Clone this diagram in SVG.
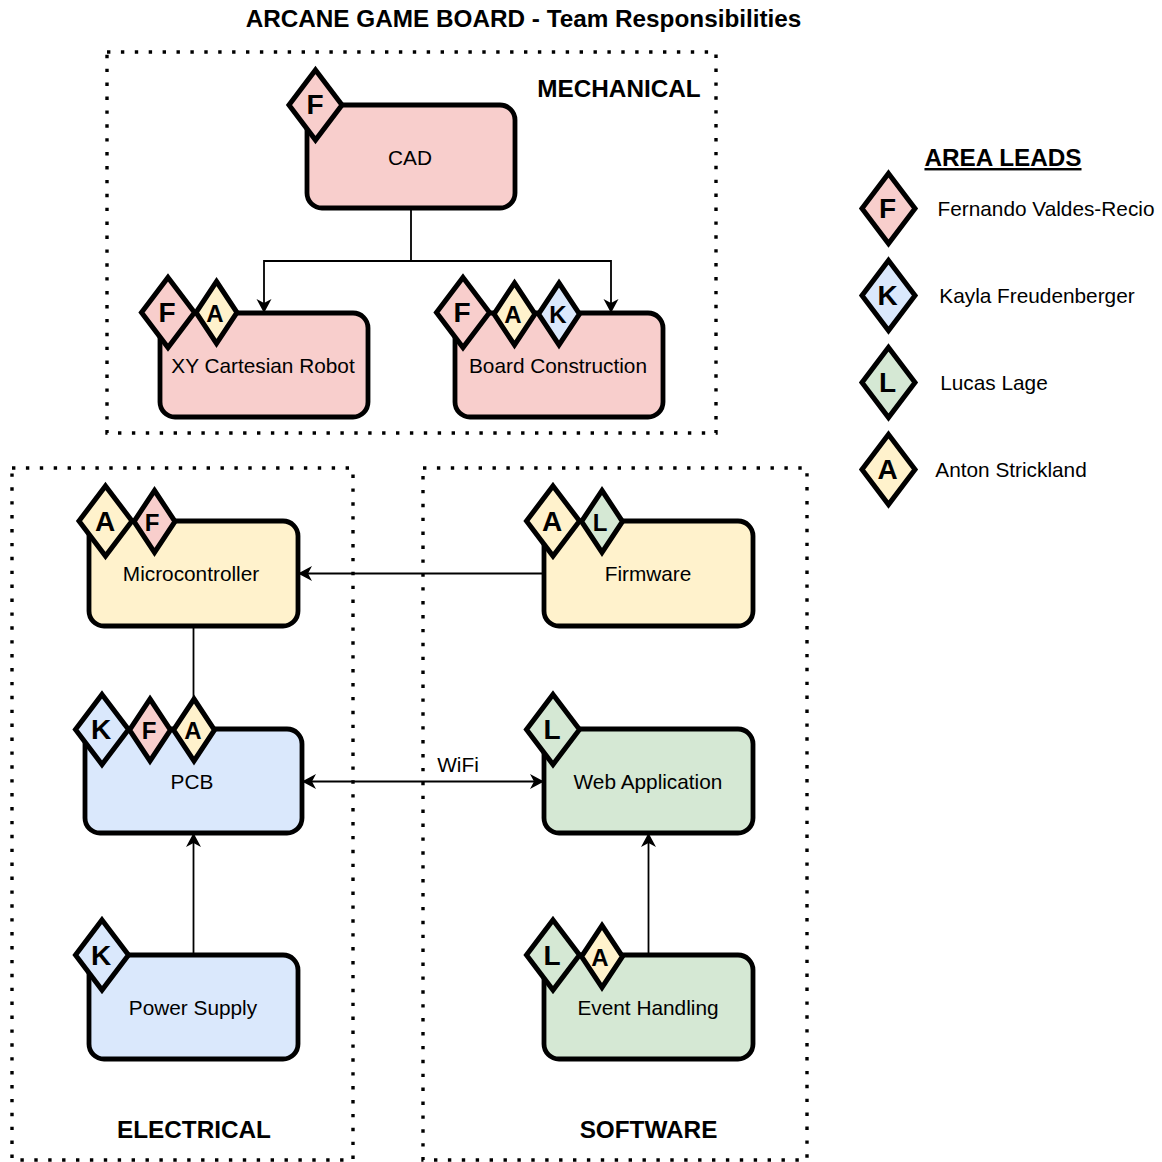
<svg xmlns="http://www.w3.org/2000/svg" xmlns:xlink="http://www.w3.org/1999/xlink" width="1162" height="1162" viewBox="0 0 1162 1162">
<style>
text{font-family:"Liberation Sans",Arial,sans-serif;fill:#000;text-anchor:middle}
.t{font-size:20.8px}
.h{font-size:24.3px;font-weight:bold}
.b{font-weight:bold;font-size:28px}
.s{font-weight:bold;font-size:24px}
.area{fill:none;stroke:#000;stroke-width:3.4;stroke-dasharray:3.4 10.5}
.n{stroke:#000;stroke-width:4.8}
.d{stroke:#000;stroke-width:5;stroke-miterlimit:10}
.c{fill:none;stroke:#000;stroke-width:1.8}
.r{fill:#f8cecc}.y{fill:#fff2cc}.u{fill:#dae8fc}.g{fill:#d5e8d4}
</style>
<defs>
<marker id="a" markerUnits="userSpaceOnUse" markerWidth="18" markerHeight="18" refX="15" refY="9" orient="auto-start-reverse"><path d="M1 1.500L15 9L1 16.500L5 9Z" fill="#000"/></marker>
<path id="D" d="M0-35L26.500 0L0 35L-26.500 0Z"/>
<path id="E" d="M0-31L20.500 0L0 31L-20.500 0Z"/>
</defs>
<rect width="1162" height="1162" fill="#fff"/>
<text class="h" x="523.500" y="27">ARCANE GAME BOARD - Team Responsibilities</text>
<g id="areas">
<rect class="area" x="107" y="52" width="609" height="381"/>
<rect class="area" x="12" y="468" width="341" height="692"/>
<rect class="area" x="423" y="468" width="384" height="692"/>
<text class="h" x="619" y="97">MECHANICAL</text>
<text class="h" x="194" y="1138">ELECTRICAL</text>
<text class="h" x="648.500" y="1138">SOFTWARE</text>
</g>
<g id="connectors">
<path class="c" d="M411 208V261H264V313" marker-end="url(#a)"/>
<path class="c" d="M411 261H611V313" marker-end="url(#a)"/>
<path class="c" d="M544 573.500H298" marker-end="url(#a)"/>
<path class="c" d="M193.500 626V729"/>
<path class="c" d="M302 781.500H544" marker-start="url(#a)" marker-end="url(#a)"/>
<path class="c" d="M193.500 955V833" marker-end="url(#a)"/>
<path class="c" d="M648.500 955V833" marker-end="url(#a)"/>
</g>
<text id="wifi" class="t" x="458" y="772">WiFi</text>
<g id="cad"><rect class="n r" x="307" y="105" width="208" height="103" rx="15"/><text class="t" x="410" y="165">CAD</text>
<use href="#D" x="315.500" y="105" class="d r"/><text class="b" x="315" y="114">F</text></g>
<g id="xy"><rect class="n r" x="160" y="313" width="208" height="104" rx="15"/><text class="t" x="263" y="373">XY Cartesian Robot</text>
<use href="#D" x="168" y="312.500" class="d r"/><text class="b" x="167" y="322">F</text>
<use href="#E" x="216.500" y="312.500" class="d y"/><text class="s" x="215" y="322">A</text></g>
<g id="board"><rect class="n r" x="455" y="313" width="208" height="104" rx="15"/><text class="t" x="558" y="373">Board Construction</text>
<use href="#D" x="463" y="312.500" class="d r"/><text class="b" x="462" y="322">F</text>
<use href="#E" x="514.500" y="314" class="d y"/><text class="s" x="513" y="323">A</text>
<use href="#E" x="559" y="314" class="d u"/><text class="s" x="558" y="323">K</text></g>
<g id="microcontroller"><rect class="n y" x="89" y="521" width="209" height="105" rx="15"/><text class="t" x="191" y="581">Microcontroller</text>
<use href="#D" x="105.500" y="521" class="d y"/><text class="b" x="105" y="531">A</text>
<use href="#E" x="154.500" y="521.500" class="d r"/><text class="s" x="152" y="531">F</text></g>
<g id="pcb"><rect class="n u" x="85" y="729" width="217" height="104" rx="15"/><text class="t" x="192" y="789">PCB</text>
<use href="#D" x="102" y="729.500" class="d u"/><text class="b" x="101" y="739">K</text>
<use href="#E" x="150" y="730" class="d r"/><text class="s" x="149" y="739">F</text>
<use href="#E" x="194" y="730" class="d y"/><text class="s" x="193" y="739">A</text></g>
<g id="power"><rect class="n u" x="89" y="955" width="209" height="104" rx="15"/><text class="t" x="193" y="1015">Power Supply</text>
<use href="#D" x="102" y="955" class="d u"/><text class="b" x="101" y="965">K</text></g>
<g id="firmware"><rect class="n y" x="544" y="521" width="209" height="105" rx="15"/><text class="t" x="648" y="581">Firmware</text>
<use href="#D" x="553" y="521" class="d y"/><text class="b" x="552" y="531">A</text>
<use href="#E" x="602" y="521.500" class="d g"/><text class="s" x="600" y="531">L</text></g>
<g id="web"><rect class="n g" x="544" y="729" width="209" height="104" rx="15"/><text class="t" x="648" y="789">Web Application</text>
<use href="#D" x="553" y="729.500" class="d g"/><text class="b" x="552" y="739">L</text></g>
<g id="event"><rect class="n g" x="544" y="955" width="209" height="104" rx="15"/><text class="t" x="648" y="1015">Event Handling</text>
<use href="#D" x="553" y="955" class="d g"/><text class="b" x="552" y="965">L</text>
<use href="#E" x="602" y="956.500" class="d y"/><text class="s" x="600" y="966">A</text></g>
<g id="legend">
<text class="h" x="1003" y="166" text-decoration="underline">AREA LEADS</text>
<use href="#D" x="888.500" y="208.500" class="d r"/><text class="b" x="887.500" y="218">F</text>
<text class="t" x="1046" y="216">Fernando Valdes-Recio</text>
<use href="#D" x="888.500" y="295.500" class="d u"/><text class="b" x="887.500" y="305">K</text>
<text class="t" x="1037" y="303">Kayla Freudenberger</text>
<use href="#D" x="888.500" y="382.500" class="d g"/><text class="b" x="887.500" y="392">L</text>
<text class="t" x="994" y="390">Lucas Lage</text>
<use href="#D" x="888.500" y="469.500" class="d y"/><text class="b" x="887.500" y="479">A</text>
<text class="t" x="1011" y="477">Anton Strickland</text>
</g>
</svg>
